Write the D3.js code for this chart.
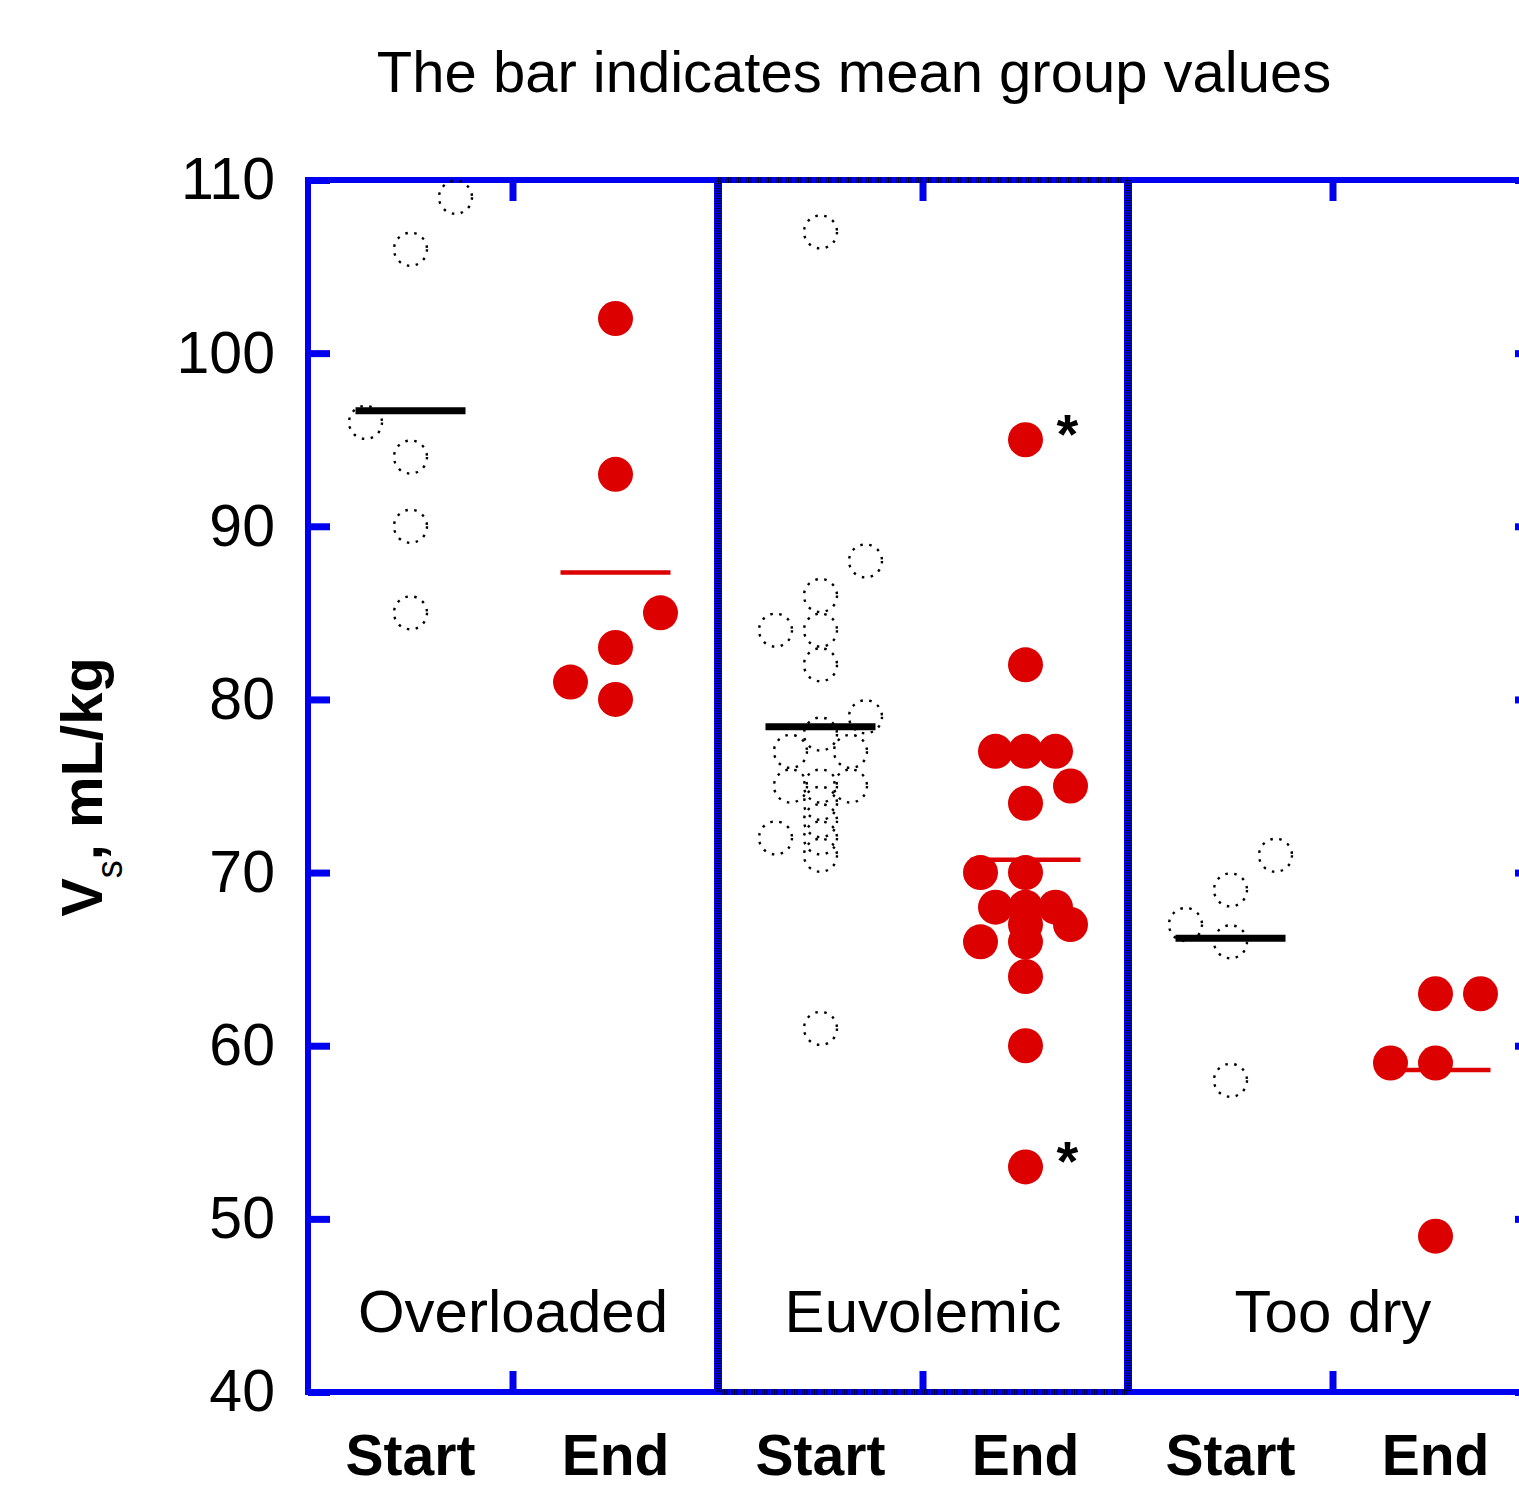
<!DOCTYPE html>
<html>
<head>
<meta charset="utf-8">
<script src="https://cdn.jsdelivr.net/npm/d3@7"></script>
<style>
  body { margin: 0; background: #fff; }
  text { font-family: "Liberation Sans", Arial, sans-serif; }
</style>
</head>
<body>
<div id="chart-area"></div>
<script>
// chart data
var groups = ["Overloaded", "Euvolemic", "Too dry"];
var phases = ["Start", "End"];
var yTicks = [40, 50, 60, 70, 80, 90, 100, 110];

// values per group/phase, with a jitter slot (-3..3) used to spread ties
var overloadedStart     = [109, 106, 96, 94, 90, 85];
var overloadedStartSlot = [3, 0, -3, 0, 0, 0];
var overloadedEnd       = [102, 93, 85, 83, 81, 80];
var overloadedEndSlot   = [0, 0, 3, 0, -3, 0];
var euvolemicStart      = [107, 88, 86, 84, 84, 82, 79, 78, 77, 77, 75, 75, 75, 74, 73, 72, 72, 71, 61];
var euvolemicStartSlot  = [0, 3, 0, -3, 0, 0, 3, 0, -2, 2, -2, 0, 2, 0, 0, -3, 0, 0, 0];
var euvolemicEnd        = [95, 82, 77, 77, 77, 75, 74, 70, 70, 68, 68, 68, 67, 67, 66, 66, 64, 60, 53];
var euvolemicEndSlot    = [0, 0, -2, 0, 2, 3, 0, -3, 0, -2, 0, 2, 3, 0, -3, 0, 0, 0, 0];
var tooDryStart         = [71, 69, 67, 66, 58];
var tooDryStartSlot     = [3, 0, -3, 0, 0];
var tooDryEnd           = [63, 63, 59, 59, 49];
var tooDryEndSlot       = [0, 3, -3, 0, 0];

// points flagged with an asterisk
var starred = [
  {group: "Euvolemic", phase: "End", value: 95},
  {group: "Euvolemic", phase: "End", value: 53}
];

var width = 1519;
var height = 1489;

var svg = d3.select("#chart-area").append("svg")
  .attr("width", width)
  .attr("height", height);

// build flat list of points
var sets = [
  {group: "Overloaded", phase: "Start", values: overloadedStart, slots: overloadedStartSlot},
  {group: "Overloaded", phase: "End",   values: overloadedEnd,   slots: overloadedEndSlot},
  {group: "Euvolemic",  phase: "Start", values: euvolemicStart,  slots: euvolemicStartSlot},
  {group: "Euvolemic",  phase: "End",   values: euvolemicEnd,    slots: euvolemicEndSlot},
  {group: "Too dry",    phase: "Start", values: tooDryStart,     slots: tooDryStartSlot},
  {group: "Too dry",    phase: "End",   values: tooDryEnd,       slots: tooDryEndSlot}
];
var points = [];
sets.forEach(function(s){
  s.values.forEach(function(v, i){
    points.push({group: s.group, phase: s.phase, value: v, slot: s.slots[i]});
  });
  s.mean = d3.mean(s.values);
});

// Scales
var plotLeft = 308, plotRight = 1538, plotTop = 180, plotBottom = 1392;
var blue = "#0000f0";
var red = "#dd0000";

var y = d3.scaleLinear().domain([40, 110]).range([plotBottom, plotTop]);
var xGroup = d3.scaleBand().domain(groups).range([plotLeft, plotRight]);
var xPhase = d3.scaleBand().domain(phases).range([0, xGroup.bandwidth()]);
var jitter = d3.scaleLinear().domain([-3, 3]).range([-45, 45]);

function cx(group, phase){
  return xGroup(group) + xPhase(phase) + xPhase.bandwidth() / 2;
}

// Title
svg.append("text")
  .attr("x", 854)
  .attr("y", 92)
  .attr("text-anchor", "middle")
  .style("font-size", "58px")
  .text("The bar indicates mean group values");

// Axes (ticks only, frame drawn separately)
var yAxis = svg.append("g")
  .attr("transform", "translate(" + plotLeft + ",0)")
  .call(d3.axisLeft(y).tickValues(yTicks).tickSize(-22).tickPadding(33).tickFormat(d3.format("d")));
var yAxisR = svg.append("g")
  .attr("transform", "translate(" + plotRight + ",0)")
  .call(d3.axisRight(y).tickValues(yTicks).tickSize(-23).tickFormat(""));
var xTop = svg.append("g")
  .attr("transform", "translate(0," + plotTop + ")")
  .call(d3.axisTop(xGroup).tickSize(-21).tickFormat(""));
var xBottom = svg.append("g")
  .attr("transform", "translate(0," + plotBottom + ")")
  .call(d3.axisBottom(xGroup).tickSize(-21).tickFormat(""));

[yAxis, yAxisR, xTop, xBottom].forEach(function(a){
  a.select(".domain").remove();
  a.selectAll(".tick line").attr("stroke", blue).attr("stroke-width", 7);
});
yAxis.selectAll(".tick text")
  .attr("fill", "#000")
  .style("font-size", "59px")
  .style("font-family", "'Liberation Sans', Arial, sans-serif");

// frame + panel dividers
svg.append("rect")
  .attr("x", plotLeft).attr("y", plotTop)
  .attr("width", plotRight - plotLeft).attr("height", plotBottom - plotTop)
  .attr("fill", "none").attr("stroke", blue).attr("stroke-width", 6);

svg.selectAll(".divider")
  .data(groups.slice(1))
  .enter().append("line")
  .attr("class", "divider")
  .attr("x1", function(d){ return xGroup(d); })
  .attr("x2", function(d){ return xGroup(d); })
  .attr("y1", plotTop).attr("y2", plotBottom)
  .attr("stroke", blue).attr("stroke-width", 8);

// dotted black frame round the middle panel
svg.append("rect")
  .attr("x", xGroup(groups[1])).attr("y", plotTop)
  .attr("width", xGroup.bandwidth()).attr("height", plotBottom - plotTop)
  .attr("fill", "none").attr("stroke", "#000")
  .attr("stroke-width", 6).attr("stroke-dasharray", "1,1.5")
  .attr("opacity", 0.8);

// Panel labels
svg.selectAll(".panel-label")
  .data(groups)
  .enter().append("text")
  .attr("class", "panel-label")
  .attr("x", function(d){ return xGroup(d) + xGroup.bandwidth() / 2; })
  .attr("y", 1332)
  .attr("text-anchor", "middle")
  .style("font-size", "60px")
  .text(function(d){ return d; });

// Phase labels under the axis
var phaseLabels = [];
groups.forEach(function(g){ phases.forEach(function(p){ phaseLabels.push({group: g, phase: p}); }); });
svg.selectAll(".phase-label")
  .data(phaseLabels)
  .enter().append("text")
  .attr("class", "phase-label")
  .attr("x", function(d){ return cx(d.group, d.phase); })
  .attr("y", 1475)
  .attr("text-anchor", "middle")
  .style("font-size", "57px")
  .style("font-weight", "bold")
  .text(function(d){ return d.phase; });

// Y axis label
var yLabel = svg.append("text")
  .attr("transform", "translate(102,787) rotate(-90)")
  .attr("text-anchor", "middle")
  .style("font-size", "58px")
  .style("font-weight", "bold");
yLabel.append("tspan").text("V");
yLabel.append("tspan").attr("dy", 20).style("font-size", "36px").style("font-weight", "normal").text("s");
yLabel.append("tspan").attr("dy", -20).text(", mL/kg");

// Mean bars
svg.selectAll(".mean")
  .data(sets)
  .enter().append("line")
  .attr("class", "mean")
  .attr("x1", function(d){ return cx(d.group, d.phase) - 55; })
  .attr("x2", function(d){ return cx(d.group, d.phase) + 55; })
  .attr("y1", function(d){ return y(d.mean); })
  .attr("y2", function(d){ return y(d.mean); })
  .attr("stroke", function(d){ return d.phase == "Start" ? "#000" : red; })
  .attr("stroke-width", function(d){ return d.phase == "Start" ? 7 : 4.5; });

// Points
svg.selectAll(".pt")
  .data(points)
  .enter().append("circle")
  .attr("class", "pt")
  .attr("cx", function(d){ return cx(d.group, d.phase) + jitter(d.slot); })
  .attr("cy", function(d){ return y(d.value); })
  .attr("r", function(d){ return d.phase == "Start" ? 16.5 : 17.5; })
  .attr("fill", function(d){ return d.phase == "Start" ? "none" : red; })
  .attr("stroke", function(d){ return d.phase == "Start" ? "#000" : "none"; })
  .attr("stroke-width", 2.4)
  .attr("stroke-dasharray", function(d){ return d.phase == "Start" ? "2.5,6.5" : null; });

// Asterisks
svg.selectAll(".star")
  .data(starred)
  .enter().append("text")
  .attr("class", "star")
  .attr("x", function(d){ return cx(d.group, d.phase) + 42; })
  .attr("y", function(d){ return y(d.value) + 13; })
  .attr("text-anchor", "middle")
  .style("font-size", "56px")
  .style("font-weight", "bold")
  .text("*");
</script>
</body>
</html>
